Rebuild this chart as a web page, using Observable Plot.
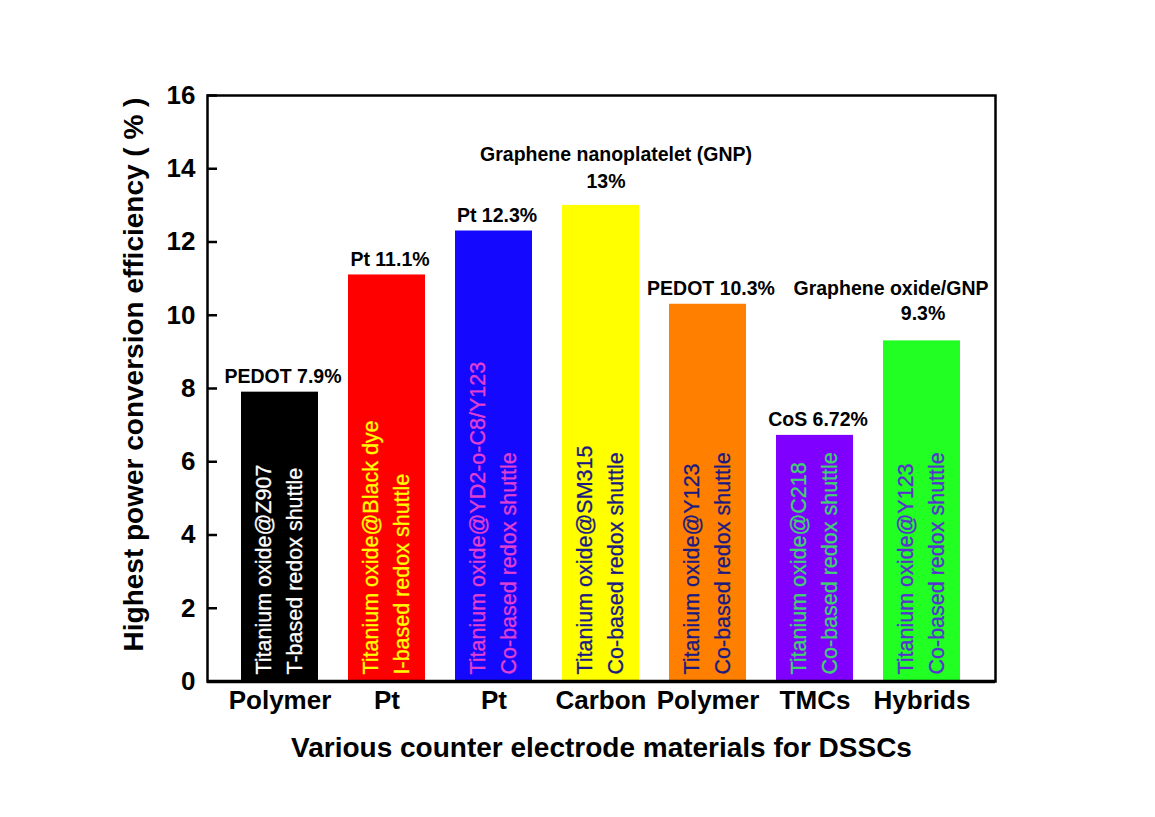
<!DOCTYPE html>
<html>
<head>
<meta charset="utf-8">
<script src="https://cdn.jsdelivr.net/npm/d3@7"></script>
<script src="https://cdn.jsdelivr.net/npm/@observablehq/plot@0.6"></script>
<style>
  html, body { margin: 0; padding: 0; background: #fff; }
  #chart { width: 1155px; height: 817px; }
</style>
</head>
<body>
<div id="chart"></div>
<script>
const categories = ["Polymer", "Pt", "Pt", "Carbon", "Polymer", "TMCs", "Hybrids"];
const efficiencies = [7.9, 11.1, 12.3, 13, 10.3, 6.72, 9.3];
const valueLabels = ["PEDOT 7.9%", "Pt 11.1%", "Pt 12.3%", "13%", "PEDOT 10.3%", "CoS 6.72%", "9.3%"];
const headLabels = ["", "", "", "Graphene nanoplatelet (GNP)", "", "", "Graphene oxide/GNP"];
const innerLine1 = ["Titanium oxide@Z907", "Titanium oxide@Black dye", "Titanium oxide@YD2-o-C8/Y123", "Titanium oxide@SM315", "Titanium oxide@Y123", "Titanium oxide@C218", "Titanium oxide@Y123"];
const innerLine2 = ["T-based redox shuttle", "I-based redox shuttle", "Co-based redox shuttle", "Co-based redox shuttle", "Co-based redox shuttle", "Co-based redox shuttle", "Co-based redox shuttle"];
const barColors = ["#000000", "#ff0000", "#1408ff", "#ffff00", "#ff8000", "#8000ff", "#22ff22"];
const innerTextColors = ["#ffffff", "#ffff00", "#e040d0", "#1a1a80", "#1a1a80", "#40d070", "#5533cc"];
const yTicks = [0, 2, 4, 6, 8, 10, 12, 14, 16];
const yTitle = "Highest power conversion efficiency ( % )";
const xTitle = "Various counter electrode materials for DSSCs";

const idx = d3.range(categories.length);
const FONT = "'Liberation Sans', Arial, Helvetica, sans-serif";

const chart = Plot.plot({
  width: 1155,
  height: 817,
  marginLeft: 207,
  marginRight: 160,
  marginTop: 95,
  marginBottom: 136,
  style: { fontFamily: FONT, background: "#fff", color: "#000" },
  x: { type: "band", domain: idx, paddingInner: 0.276, paddingOuter: 0.3 },
  y: { domain: [0, 16] },
  color: { type: "identity" },
  marks: [
    Plot.barY(idx, { x: i => i, y: i => efficiencies[i], fill: i => barColors[i] }),
    Plot.text(idx, { x: i => i, y: 0, text: i => innerLine1[i], rotate: -90, textAnchor: "start", lineAnchor: "middle", dx: -16, dy: -7, fill: i => innerTextColors[i], fontSize: 21.5, stroke: i => innerTextColors[i], strokeWidth: 0.3 }),
    Plot.text(idx, { x: i => i, y: 0, text: i => innerLine2[i], rotate: -90, textAnchor: "start", lineAnchor: "middle", dx: 15, dy: -7, fill: i => innerTextColors[i], fontSize: 21.5, stroke: i => innerTextColors[i], strokeWidth: 0.3 }),
    Plot.text(idx.filter(i => headLabels[i] === ""), { x: i => i, y: i => efficiencies[i], text: i => valueLabels[i], lineAnchor: "bottom", dx: 3, dy: -9, fontSize: 19.5, fontWeight: "bold", fill: "#000" }),
    Plot.text([3], { x: i => i, y: i => efficiencies[i], text: i => valueLabels[i], lineAnchor: "bottom", dx: 5, dy: -17, fontSize: 19.5, fontWeight: "bold", fill: "#000" }),
    Plot.text([3], { x: i => i, y: i => efficiencies[i], text: i => headLabels[i], lineAnchor: "bottom", dx: 15, dy: -44, fontSize: 19.5, fontWeight: "bold", fill: "#000" }),
    Plot.text([6], { x: i => i, y: i => efficiencies[i], text: i => valueLabels[i], lineAnchor: "bottom", dx: 1, dy: -21, fontSize: 19.5, fontWeight: "bold", fill: "#000" }),
    Plot.text([6], { x: i => i, y: i => efficiencies[i], text: i => headLabels[i], lineAnchor: "bottom", dx: -31, dy: -46, fontSize: 19.5, fontWeight: "bold", fill: "#000" }),
    Plot.axisY({ ticks: yTicks, tickSize: -10, tickPadding: 22, strokeWidth: 2.5, fontSize: 26, fontWeight: "bold", label: null, tickFormat: d => String(d) }),
    Plot.axisX({ tickSize: 0, tickPadding: 9, fontSize: 26, fontWeight: "bold", label: null, tickFormat: i => categories[i] }),
    Plot.frame({ stroke: "#000", strokeWidth: 2.5 }),
    Plot.ruleY([0], { stroke: "#000", strokeWidth: 3.5 }),
    Plot.text([yTitle], { frameAnchor: "left", rotate: -90, textAnchor: "middle", dx: -73, dy: -14, lineAnchor: "middle", fontSize: 28, fontWeight: "bold", fill: "#000" }),
    Plot.text([xTitle], { frameAnchor: "bottom", textAnchor: "middle", dy: 67, lineAnchor: "middle", fontSize: 28, fontWeight: "bold", fill: "#000" })
  ]
});
document.getElementById("chart").appendChild(chart);
</script>
</body>
</html>
